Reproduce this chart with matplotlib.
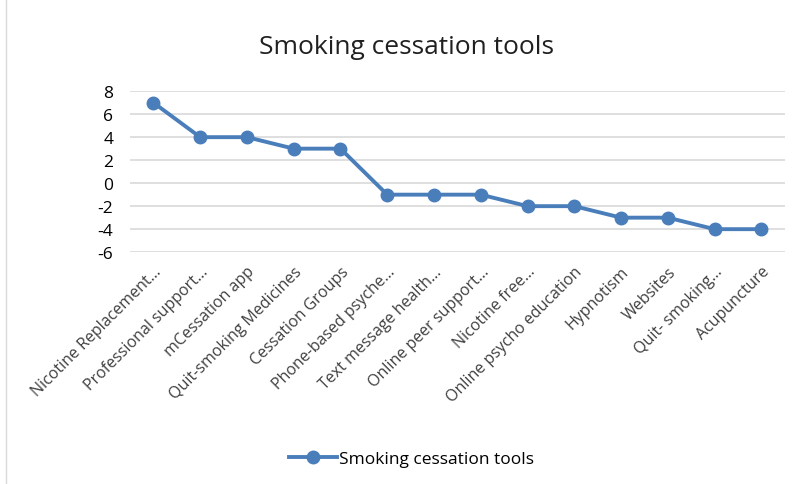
import matplotlib
matplotlib.use("Agg")
import matplotlib.pyplot as plt
from matplotlib.patches import Rectangle

categories = [
    "Nicotine Replacement...",
    "Professional support...",
    "mCessation app",
    "Quit-smoking Medicines",
    "Cessation Groups",
    "Phone-based psyche...",
    "Text message health...",
    "Online peer support...",
    "Nicotine free...",
    "Online psycho education",
    "Hypnotism",
    "Websites",
    "Quit- smoking...",
    "Acupuncture",
]
values = [7, 4, 4, 3, 3, -1, -1, -1, -2, -2, -3, -3, -4, -4]
yticks = [-6, -4, -2, 0, 2, 4, 6, 8]
series_name = "Smoking cessation tools"

plt.rcParams["font.family"] = ["Open Sans", "DejaVu Sans"]

fig = plt.figure(figsize=(8, 4.85), dpi=100)
ax = fig.add_axes([0.1625, 0.478, 0.8185, 0.332])

x = list(range(len(categories)))
ax.plot(x, values, "o-", color="#4a7ebb", linewidth=2.8, markersize=9,
        label=series_name, zorder=5)

ax.set_xlim(-0.5, len(categories) - 0.5)
ax.set_ylim(-6, 8)
ax.set_yticks(yticks)
ax.set_yticklabels([str(v) for v in yticks], fontsize=12.5)
ax.set_xticks(x)
ax.set_xticklabels(categories, rotation=45, ha="right", rotation_mode="anchor",
                   fontsize=11.5, color="#404040")
ax.tick_params(length=0)
ax.tick_params(axis="y", pad=12)
ax.tick_params(axis="x", pad=8)
ax.grid(True, axis="y", color="#d9d9d9", linewidth=1.2)
ax.set_axisbelow(True)
for s in ax.spines.values():
    s.set_visible(False)

fig.text(0.508, 0.903, "Smoking cessation tools", ha="center", va="center",
         fontsize=19, color="#202020")

leg = fig.legend(loc="center", bbox_to_anchor=(0.514, 0.052), frameon=False,
                 fontsize=12.5, handlelength=2.8, handletextpad=0.1)

# light chart-area border like the original
fig.patches.append(Rectangle((0.008, -0.01), 1.2, 1.2, transform=fig.transFigure,
                             fill=False, edgecolor="#d9d9d9", linewidth=1))

fig.savefig("out.png", dpi=100)
